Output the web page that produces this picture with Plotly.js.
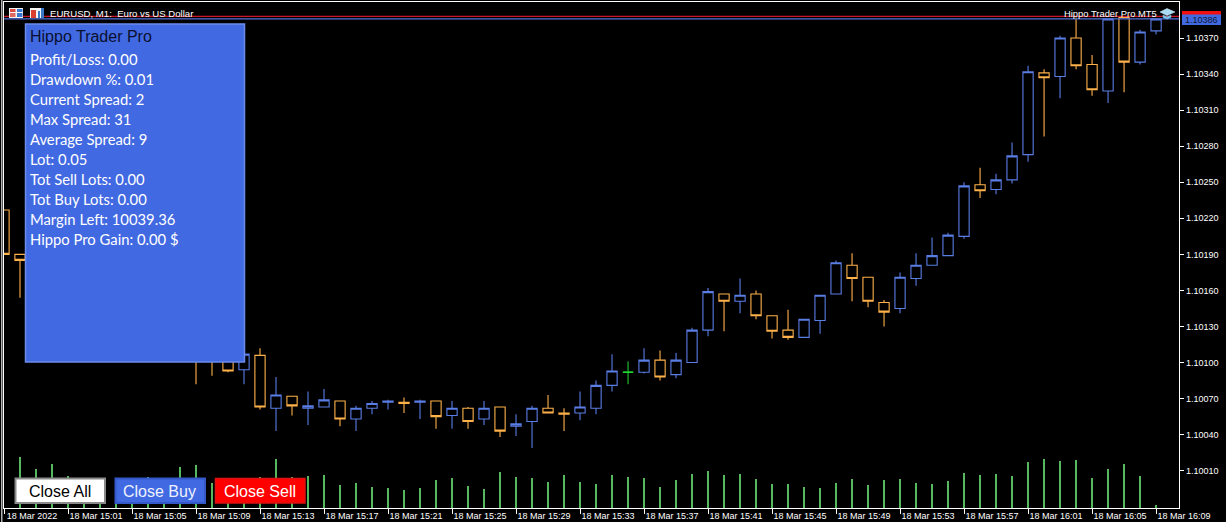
<!DOCTYPE html>
<html>
<head>
<meta charset="utf-8">
<script src="https://cdn.plot.ly/plotly-3.0.1.min.js"></script>
<style>html,body{margin:0;padding:0;background:#000;overflow:hidden}#c{width:1226px;height:522px}</style>
</head>
<body>
<div id="c"></div>
<script>
var DAY = '2022-03-18 ';
var candleTimes = ['14:57','14:58','15:09','15:10','15:11','15:12','15:13','15:14','15:15','15:16','15:17','15:18','15:19','15:20','15:21','15:22','15:23','15:24','15:25','15:26','15:27','15:28','15:29','15:30','15:31','15:32','15:33','15:34','15:35','15:37','15:38','15:39','15:40','15:41','15:42','15:43','15:44','15:45','15:46','15:47','15:48','15:49','15:50','15:51','15:52','15:53','15:54','15:55','15:56','15:57','15:58','15:59','16:00','16:01','16:02','16:03','16:04','16:05','16:06','16:07','16:08','16:09'];
var open  = [1.10227,1.10190,1.10112,1.10108,1.10110,1.10094,1.10106,1.10062,1.10072,1.10062,1.10063,1.10068,1.10053,1.10062,1.10067,1.10067,1.10067,1.10068,1.10056,1.10062,1.10053,1.10063,1.10047,1.10051,1.10062,1.10058,1.10058,1.10062,1.10081,1.10092,1.10102,1.10090,1.10100,1.10127,1.10157,1.10151,1.10157,1.10139,1.10127,1.10121,1.10135,1.10157,1.10181,1.10171,1.10150,1.10145,1.10170,1.10181,1.10189,1.10205,1.10248,1.10244,1.10252,1.10273,1.10341,1.10338,1.10370,1.10348,1.10326,1.10387,1.10350,1.10376];
var high  = [1.10227,1.10190,1.10118,1.10112,1.10112,1.10110,1.10112,1.10088,1.10072,1.10076,1.10078,1.10068,1.10064,1.10068,1.10069,1.10071,1.10069,1.10068,1.10068,1.10063,1.10068,1.10063,1.10057,1.10064,1.10073,1.10062,1.10076,1.10085,1.10107,1.10112,1.10110,1.10108,1.10129,1.10162,1.10157,1.10170,1.10160,1.10139,1.10144,1.10136,1.10156,1.10185,1.10191,1.10171,1.10152,1.10175,1.10191,1.10204,1.10208,1.10250,1.10262,1.10257,1.10283,1.10347,1.10344,1.10372,1.10387,1.10356,1.10386,1.10387,1.10377,1.10386];
var low   = [1.10190,1.10154,1.10082,1.10089,1.10092,1.10082,1.10061,1.10043,1.10056,1.10048,1.10063,1.10047,1.10043,1.10057,1.10061,1.10058,1.10053,1.10045,1.10045,1.10045,1.10048,1.10038,1.10039,1.10029,1.10058,1.10043,1.10052,1.10057,1.10076,1.10091,1.10085,1.10087,1.10100,1.10122,1.10126,1.10141,1.10136,1.10120,1.10119,1.10121,1.10124,1.10157,1.10151,1.10146,1.10130,1.10141,1.10164,1.10181,1.10189,1.10203,1.10237,1.10240,1.10249,1.10267,1.10288,1.10320,1.10344,1.10322,1.10316,1.10325,1.10348,1.10373];
var close = [1.10190,1.10185,1.10105,1.10104,1.10093,1.10107,1.10063,1.10073,1.10064,1.10064,1.10069,1.10053,1.10062,1.10066,1.10068,1.10066,1.10068,1.10055,1.10062,1.10051,1.10062,1.10043,1.10049,1.10062,1.10058,1.10057,1.10063,1.10081,1.10093,1.10102,1.10088,1.10102,1.10127,1.10159,1.10151,1.10156,1.10139,1.10126,1.10121,1.10136,1.10156,1.10183,1.10170,1.10151,1.10142,1.10171,1.10181,1.10189,1.10206,1.10247,1.10243,1.10252,1.10272,1.10342,1.10337,1.10370,1.10347,1.10327,1.10386,1.10350,1.10375,1.10386];
var dojiTime = ['15:36'];
var dojiOpen = [1.10092], dojiHigh = [1.10101], dojiLow = [1.10082], dojiClose = [1.10092];
var volumeTimes = ['14:58','14:59','15:00','15:01','15:02','15:03','15:04','15:05','15:06','15:07','15:08','15:09','15:10','15:11','15:12','15:13','15:14','15:15','15:16','15:17','15:18','15:19','15:20','15:21','15:22','15:23','15:24','15:25','15:26','15:27','15:28','15:29','15:30','15:31','15:32','15:33','15:34','15:35','15:36','15:37','15:38','15:39','15:40','15:41','15:42','15:43','15:44','15:45','15:46','15:47','15:48','15:49','15:50','15:51','15:52','15:53','15:54','15:55','15:56','15:57','15:58','15:59','16:00','16:01','16:02','16:03','16:04','16:05','16:06','16:07','16:08','16:09'];
var volumes = [102,78,88,64,46,46,52,44,62,52,82,86,50,44,44,62,98,62,64,66,46,50,42,40,36,40,56,60,44,38,72,62,60,52,66,52,48,66,62,60,42,56,68,74,66,68,58,48,48,42,40,50,58,46,56,58,50,48,54,70,66,68,64,92,98,94,96,60,78,88,64,6];
var priceTicks = [1.10010,1.10040,1.10070,1.10100,1.10130,1.10160,1.10190,1.10220,1.10250,1.10280,1.10310,1.10340,1.10370];
var timeTicks = ['14:57','15:01','15:05','15:09','15:13','15:17','15:21','15:25','15:29','15:33','15:37','15:41','15:45','15:49','15:53','15:57','16:01','16:05','16:09'];
var timeLabels = ['18 Mar 2022','18 Mar 15:01','18 Mar 15:05','18 Mar 15:09','18 Mar 15:13','18 Mar 15:17','18 Mar 15:21','18 Mar 15:25','18 Mar 15:29','18 Mar 15:33','18 Mar 15:37','18 Mar 15:41','18 Mar 15:45','18 Mar 15:49','18 Mar 15:53','18 Mar 15:57','18 Mar 16:01','18 Mar 16:05','18 Mar 16:09'];
var bidPrice = 1.10386, askPrice = 1.10388;
var panelTitle = 'Hippo Trader Pro';
var panelLines = ['Profit/Loss: 0.00','Drawdown %: 0.01','Current Spread: 2','Max Spread: 31','Average Spread: 9','Lot: 0.05','Tot Sell Lots: 0.00','Tot Buy Lots: 0.00','Margin Left: 10039.36','Hippo Pro Gain: 0.00 $'];

var BLUE = '#5a7de6', ORANGE = '#ffb24a', GREEN = '#22dd33', VOL = '#55b85f', PANEL = '#4169e1';
function t(a){ return a.map(function(s){ return DAY + s; }); }

// pixel helpers for the screen furniture (plot area: x 4..1179, y 2..508)
var L = 4, R = 1179, T = 2, B = 508;
function px(x){ return (x - L) / (R - L); }
function py(y){ return 1 - (y - T) / (B - T); }
function rect(x0, y0, x1, y1, fill, line, lw){
  return {type:'rect', xref:'paper', yref:'paper', x0:px(x0), x1:px(x1), y0:py(y0), y1:py(y1), layer:'above',
          fillcolor:fill, line:{color:line || fill, width:lw === undefined ? 0 : lw}};
}
function label(x, y, text, size, color, family, anchor){
  return {xref:'paper', yref:'paper', x:px(x), y:py(y), text:text, showarrow:false, xanchor:anchor || 'left', yanchor:'middle',
          font:{size:size, color:color, family:family}, borderpad:0, borderwidth:0};
}

var SANS = '"Liberation Sans", Arial, sans-serif';
var GILL = 'Lato, "Noto Sans", sans-serif';

var shapes = [
  // left window strip
  rect(1, 0, 2.5, 522, '#b0b0b0'),
  // bid / ask
  {type:'line', xref:'paper', yref:'y', x0:0, x1:1, y0:askPrice, y1:askPrice, layer:'above', line:{color:'#c8182a', width:1.3}},
  {type:'line', xref:'paper', yref:'y', x0:0, x1:1, y0:bidPrice, y1:bidPrice, layer:'above', line:{color:'#5070d8', width:1.3}},
  // price tag
  rect(1182, 11, 1221, 15, '#f01010'),
  rect(1182, 14.5, 1221, 25, '#4169e1'),
  // header icons
  rect(9, 8, 23, 18, '#f4f4f4'),
  rect(10, 9, 15.5, 12, '#e04a40'), rect(10, 13, 15.5, 17, '#e06a60'),
  rect(17, 9, 22.5, 12, '#3a78d0'), rect(17, 13, 22.5, 17, '#3a78d0'),
  rect(30, 8, 44, 18, '#f4f4f4'),
  rect(31, 10, 36, 18, '#d84030'), rect(38, 11, 40, 18, '#3a78c8'), rect(41, 8, 44, 18, '#3a78c8'),
  // graduation cap
  {type:'path', xref:'paper', yref:'paper', layer:'above', fillcolor:'#a8dcf4', line:{color:'#d8f0fa', width:0.5},
   path:'M '+px(1160)+' '+py(12)+' L '+px(1167)+' '+py(8.5)+' L '+px(1175)+' '+py(12)+' L '+px(1167)+' '+py(15.5)+' Z'},
  {type:'path', xref:'paper', yref:'paper', layer:'above', fillcolor:'#78c4ea', line:{color:'#78c4ea', width:0.5},
   path:'M '+px(1163)+' '+py(15)+' L '+px(1167)+' '+py(17)+' L '+px(1171)+' '+py(15)+' L '+px(1171)+' '+py(17.5)+' L '+px(1167)+' '+py(19)+' L '+px(1163)+' '+py(17.5)+' Z'},
  // info panel
  rect(25.5, 24, 244.5, 362, PANEL, '#6c8cec', 1.5),
  // buttons
  rect(15.5, 478.5, 105, 503, '#ffffff', '#8a8a8a', 2),
  rect(115.5, 478.5, 205, 503, PANEL, '#3558c8', 2),
  rect(215.5, 478.5, 305, 503, '#ff0000', '#dd1111', 1.5)
];

var annotations = [
  label(50, 13.5, 'EURUSD, M1:&nbsp; Euro vs US Dollar', 9.6, '#ffffff', SANS),
  label(1157, 13.5, 'Hippo Trader Pro MT5', 9.4, '#ffffff', SANS, 'right'),
  label(1201.5, 20, bidPrice.toFixed(5), 9, '#101830', SANS, 'center'),
  label(30, 36, panelTitle, 16, '#0a0f30', SANS),
  label(60, 491, 'Close All', 16, '#000000', SANS, 'center'),
  label(160, 491, 'Close Buy', 16, '#eef2ff', SANS, 'center'),
  label(260, 491, 'Close Sell', 16, '#ffffff', SANS, 'center')
];
panelLines.forEach(function(s, i){ annotations.push(label(30, 59.3 + 20 * i, s, 14.8, '#ffffff', GILL)); });

var traces = [
  {type:'bar', x:t(volumeTimes), y:volumes, yaxis:'y2', width:8000, hoverinfo:'skip',
   marker:{color:VOL, line:{width:0}}},
  {type:'candlestick', x:t(candleTimes), open:open, high:high, low:low, close:close, whiskerwidth:0, hoverinfo:'skip',
   increasing:{line:{color:BLUE, width:1.1}, fillcolor:'#000000'},
   decreasing:{line:{color:ORANGE, width:1.1}, fillcolor:'#000000'}},
  {type:'candlestick', x:t(dojiTime), open:dojiOpen, high:dojiHigh, low:dojiLow, close:dojiClose, whiskerwidth:0, hoverinfo:'skip',
   increasing:{line:{color:GREEN, width:1}, fillcolor:'#000000'},
   decreasing:{line:{color:GREEN, width:1}, fillcolor:'#000000'}}
];

var layout = {
  width:1226, height:522,
  margin:{l:L, r:1226-R, t:T, b:522-B, pad:0},
  paper_bgcolor:'#000000', plot_bgcolor:'#000000',
  showlegend:false, dragmode:false, hovermode:false, bargap:0, boxgap:0.36, boxgroupgap:0,
  font:{family:SANS, color:'#ffffff', size:9},
  xaxis:{type:'date', range:[DAY+'14:57:00', DAY+'16:10:26'], rangeslider:{visible:false}, fixedrange:true,
         showgrid:false, zeroline:false, showline:true, linecolor:'#ffffff', linewidth:1.3, mirror:true,
         tickmode:'array', tickvals:t(timeTicks), ticktext:timeLabels, tickangle:0,
         ticks:'outside', ticklen:5, tickcolor:'#ffffff', tickwidth:1,
         tickfont:{family:SANS, size:9, color:'#ffffff'}, ticklabelshift:28, ticklabelstandoff:-6},
  yaxis:{side:'right', range:[1.09979, 1.10400], fixedrange:true, showgrid:false, zeroline:false,
         showline:true, linecolor:'#ffffff', linewidth:1.3, mirror:true,
         tickmode:'array', tickvals:priceTicks, tickformat:'.5f',
         ticks:'outside', ticklen:4, tickcolor:'#ffffff', tickwidth:1,
         tickfont:{family:SANS, size:9, color:'#ffffff'}},
  yaxis2:{overlaying:'y', range:[0, 1012], visible:false, fixedrange:true},
  shapes:shapes, annotations:annotations
};
Plotly.newPlot('c', traces, layout, {displayModeBar:false, staticPlot:true});
</script>
</body>
</html>
